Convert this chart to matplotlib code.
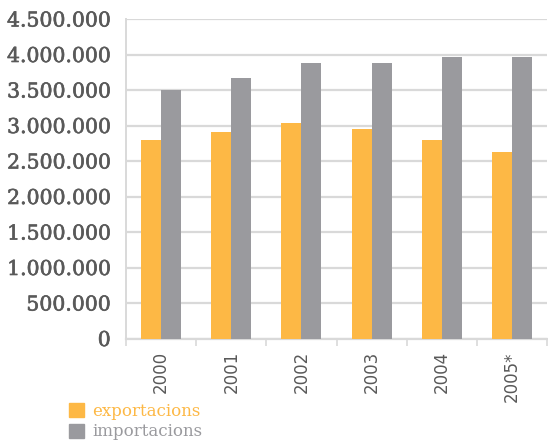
import matplotlib
matplotlib.use("Agg")
import matplotlib.pyplot as plt
import matplotlib.patheffects as pe
import numpy as np
from matplotlib.patches import Patch

years = ["2000", "2001", "2002", "2003", "2004", "2005*"]
exportacions = [2800000, 2910000, 3035000, 2950000, 2800000, 2630000]
importacions = [3500000, 3670000, 3880000, 3880000, 3965000, 3965000]
y_ticks = [0, 500000, 1000000, 1500000, 2000000, 2500000, 3000000, 3500000, 4000000, 4500000]
y_labels = ["0", "500.000", "1.000.000", "1.500.000", "2.000.000", "2.500.000",
            "3.000.000", "3.500.000", "4.000.000", "4.500.000"]

orange = "#FDB845"
gray = "#9A9A9E"
grid_c = "#D9D9D9"
text_c = "#595959"

fig = plt.figure(figsize=(5.48, 4.45), dpi=100)
ax = fig.add_axes([126 / 548, 1 - 338.5 / 445, 421 / 548, 319.5 / 445])

x = np.arange(len(years)) + 0.5
w = 0.285
ax.bar(x - w / 2, exportacions, width=w, color=orange, zorder=3)
ax.bar(x + w / 2, importacions, width=w, color=gray, zorder=3)

ax.set_xlim(0, len(years))
ax.set_ylim(0, 4500000)
ax.set_yticks(y_ticks)
ax.set_yticklabels(y_labels, fontfamily="DejaVu Serif", fontsize=14.7, color=text_c)
for t in ax.get_yticklabels():
    t.set_path_effects([pe.withStroke(linewidth=0.45, foreground=text_c)])
ax.yaxis.grid(True, color=grid_c, linewidth=1.6, zorder=0)
ax.tick_params(axis="y", length=0, pad=11)

ax.set_xticks(x)
ax.set_xticklabels(years, rotation=90, fontfamily="DejaVu Sans", fontsize=12, color=text_c)
ax.set_xticks(np.arange(len(years) + 1), minor=True)
ax.tick_params(axis="x", which="major", length=0, pad=9)
ax.tick_params(axis="x", which="minor", length=5, color=grid_c, width=1.2)

for s in ["top", "right"]:
    ax.spines[s].set_visible(False)
ax.spines["left"].set_color(grid_c)
ax.spines["left"].set_linewidth(1.4)
ax.spines["bottom"].set_color(grid_c)
ax.spines["bottom"].set_linewidth(1.6)

handles = [Patch(color=orange, label="exportacions"), Patch(color=gray, label="importacions")]
leg = fig.legend(handles=handles, loc="lower left", bbox_to_anchor=(62 / 548, -2 / 445),
                 frameon=False, prop={"family": "DejaVu Serif", "size": 12},
                 handlelength=0.9, handleheight=0.9, handletextpad=0.5, labelspacing=0.2,
                 borderaxespad=0)
for t, c in zip(leg.get_texts(), [orange, gray]):
    t.set_color(c)

fig.savefig("out.png", dpi=100)
